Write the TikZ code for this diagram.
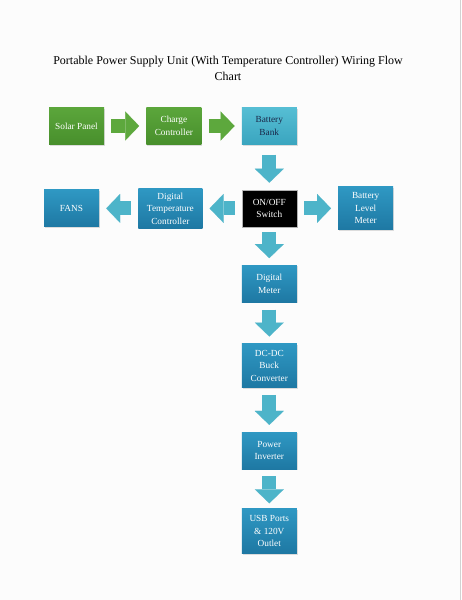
\documentclass[tikz,border=0pt]{standalone}
\usepackage{fontspec}
\setmainfont{Liberation Serif}
\usetikzlibrary{positioning, arrows.meta, shadows}

\definecolor{leafgreen}{HTML}{5BA63B}
\definecolor{leafdark}{HTML}{488F2C}
\definecolor{seablue}{HTML}{2F98C3}
\definecolor{seadark}{HTML}{1E78A3}
\definecolor{banktop}{HTML}{56BED4}
\definecolor{bankbot}{HTML}{3AA5BF}
\definecolor{banktext}{HTML}{1A2748}
\definecolor{arrowgreen}{HTML}{5DA83D}
\definecolor{arrowblue}{HTML}{4DB4C9}

\begin{document}
\begin{tikzpicture}[
   x=1pt, y=-1pt,
   node distance=40pt,
   block/.style={rectangle, minimum width=55pt, minimum height=37pt, inner sep=2pt,
      align=center, font=\fontsize{9.3}{12.5}\selectfont, text=white,
      drop shadow={opacity=0.25, shadow xshift=1pt, shadow yshift=-1pt}},
   greenbox/.style={block, top color=leafgreen, bottom color=leafdark},
   bluebox/.style={block, top color=seablue, bottom color=seadark},
   bankbox/.style={block, top color=banktop, bottom color=bankbot, text=banktext},
   switchbox/.style={block, fill=black, draw=gray!60},
   tall/.style={minimum height=43pt},
   flow/.style={line width=14pt, -{Triangle[width=29pt, length=14pt, line width=0.1pt]},
      shorten <=7pt, shorten >=7pt},
   greenflow/.style={flow, draw=arrowgreen},
   blueflow/.style={flow, draw=arrowblue},
   title/.style={font=\fontsize{12}{16}\selectfont, align=center}
]
   % page
   \useasboundingbox (0,0) rectangle (462,600);
   \fill[gray!2] (0,0) rectangle (460,600);
   \draw[gray!35, line width=1.5pt] (460.5,0) -- (460.5,600);

   % Title
   \node[title] (head) at (228,68)
      {Portable Power Supply Unit (With Temperature Controller) Wiring Flow\\Chart};

   % Nodes for the charging row
   \node[greenbox] (solar) at (76.5,126) {Solar Panel};
   \node[greenbox] (charge) [right=42pt of solar] {Charge\\Controller};
   \node[bankbox] (bank) [right=40pt of charge] {Battery\\Bank};

   % Nodes for the switch row
   \node[switchbox] (switch) [below=45pt of bank] {ON/OFF\\Switch};
   \node[bluebox, minimum width=64pt, minimum height=40pt] (tempctl) [left=39pt of switch]
      {Digital\\Temperature\\Controller};
   \node[bluebox] (fans) [left=39pt of tempctl] {FANS};
   \node[bluebox, tall] (level) [right=41pt of switch] {Battery\\Level\\Meter};

   % Nodes for the output column
   \node[bluebox] (meter) [below=38pt of switch] {Digital\\Meter};
   \node[bluebox, minimum height=44pt] (buck) [below=41pt of meter] {DC-DC\\Buck\\Converter};
   \node[bluebox] (inverter) [below=44pt of buck] {Power\\Inverter};
   \node[bluebox, minimum height=45pt] (usb) [below=39pt of inverter] {USB Ports\\\& 120V\\Outlet};

   % Block arrows
   \draw[greenflow] (solar) -- (charge);
   \draw[greenflow] (charge) -- (bank);
   \draw[blueflow, shorten <=10pt] (bank) -- (switch);
   \draw[blueflow] (switch) -- (tempctl);
   \draw[blueflow] (tempctl) -- (fans);
   \draw[blueflow] (switch) -- (level);
   \draw[blueflow, shorten <=5pt] (switch) -- (meter);
   \draw[blueflow] (meter) -- (buck);
   \draw[blueflow] (buck) -- (inverter);
   \draw[blueflow, shorten >=5pt] (inverter) -- (usb);

\end{tikzpicture}
\end{document}
